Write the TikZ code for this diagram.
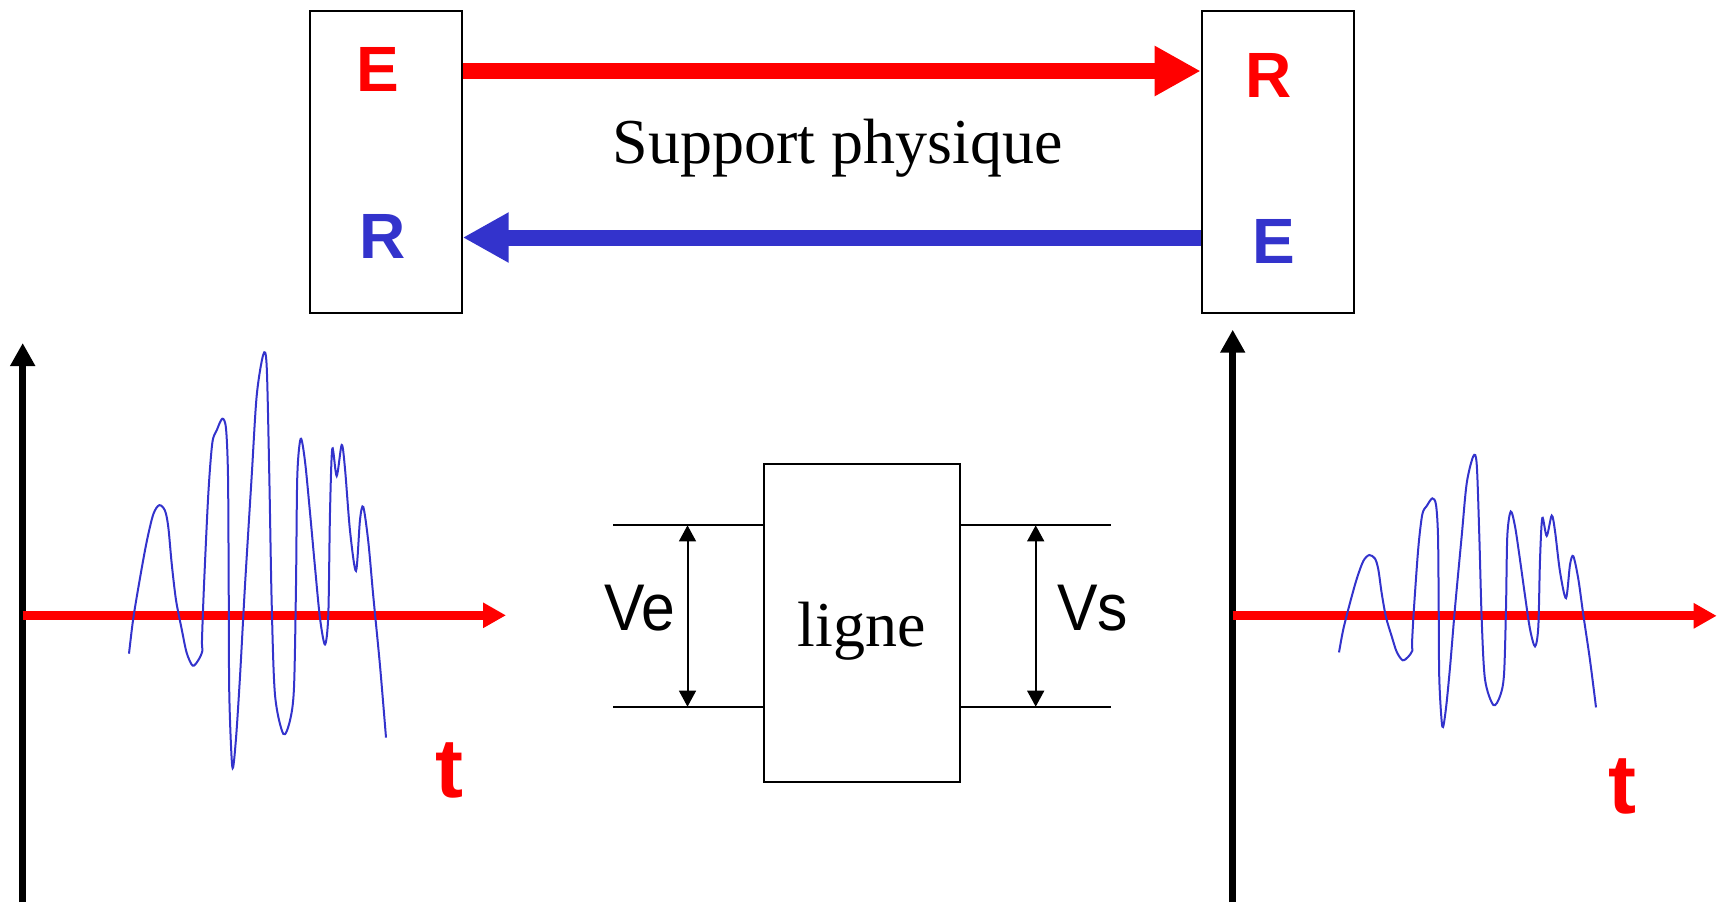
\documentclass[tikz,border=0pt]{standalone}
\usepackage{fontspec}
\setmainfont{Liberation Serif}
\setsansfont{Liberation Sans}
\usetikzlibrary{arrows.meta}
\definecolor{myred}{RGB}{255,0,0}
\definecolor{myblue}{RGB}{51,51,204}
\tikzset{
  box/.style={draw=black, line width=1pt, inner sep=0pt, fill=white},
  bigarrow/.style={line width=8pt, -{Triangle[length=23pt,width=23.5pt]}},
  vaxis/.style={black, line width=3.75pt, -{Triangle[length=11.5pt,width=11.85pt]}},
  haxis/.style={myred, line width=4.5pt, -{Triangle[length=11.5pt,width=12pt]}},
  letter/.style={font=\sffamily\bfseries\fontsize{32}{38}\selectfont, inner sep=0pt},
  tlabel/.style={font=\sffamily\bfseries\fontsize{42}{48}\selectfont, text=myred, inner sep=0pt},
  wave/.style={myblue, line width=1pt},
  thinline/.style={black, line width=0.9pt},
  dimarrow/.style={black, line width=1pt, {Triangle[length=8pt,width=8.4pt]}-{Triangle[length=8pt,width=8.4pt]}},
  vlabel/.style={font=\sffamily\fontsize{33}{40}\selectfont, inner sep=0pt},
  serif/.style={font=\rmfamily\fontsize{32}{38}\selectfont, inner sep=0pt}
}
\newcommand\wavepath{%
\draw[wave] plot[smooth, tension=0.5] coordinates {
(129.0,93.1) (133.3,57.7) (140.0,17.5) (146.7,-18.9) (153.3,-46.3) (159.3,-55.4)
(165.0,-49.9) (168.3,-33.5) (171.7,3.0) (176.0,39.4) (181.7,68.6) (186.7,92.3)
(192.7,105.1) (198.3,99.6) (202.3,90.5) (202.0,79.6) (204.0,24.8) (208.3,-66.4)
(212.3,-117.5) (216.7,-130.2) (222.3,-141.9) (226.0,-132.1) (228.0,-84.6)
(228.7,24.8) (229.3,134.3) (232.3,206.2) (235.7,181.7) (240.0,116.0) (245.0,24.8)
(251.7,-84.6) (256.7,-164.9) (263.3,-206.1) (266.7,-194.1) (269.3,-84.6)
(271.7,43.1) (275.0,134.3) (283.3,173.3) (290.0,159.8) (294.0,127.0) (296.0,24.8)
(297.3,-84.6) (300.7,-121.8) (305.0,-99.2) (310.0,-48.1) (315.0,6.6) (320.0,57.7)
(325.0,83.9) (328.3,54.0) (330.0,-48.1) (332.3,-112.0) (336.7,-84.6) (341.7,-115.6)
(345.0,-91.9) (350.0,-29.9) (356.0,10.3) (360.0,-40.8) (363.3,-53.6) (368.3,-18.9)
(373.3,35.8) (380.0,105.1) (386.0,177.0)};}
\begin{document}
\begin{tikzpicture}[x=0.5pt, y=-0.5pt]
\useasboundingbox (0,0) rectangle (1723,902);
% top boxes
\node[box, minimum width=75.85pt, minimum height=151.15pt] (boxL) at (385.85,162.15) {};
\node[box, minimum width=76.15pt, minimum height=151.15pt] (boxR) at (1277.85,162.15) {};
\node[letter, text=myred] (eL) at (377.5,69.7) {E};
\node[letter, text=myblue] (rL) at (383,236.3) {R};
\node[letter, text=myred] (rR) at (1269,75.5) {R};
\node[letter, text=myblue] (eR) at (1274.2,241.7) {E};
\coordinate (yTop) at (0,71);
\coordinate (yBot) at (0,237.5);
\draw[bigarrow, myred] (boxL.east |- yTop) -- (boxR.west |- yTop);
\draw[bigarrow, myblue] (boxR.west |- yBot) -- (boxL.east |- yBot);
\node[serif, anchor=base] (sp) at (837.6,163.3) {Support physique};
% left axes
\coordinate (oL) at (22.7,615.3);
\coordinate (vLb) at (22.7,902);
\coordinate (vLt) at (22.7,343);
\coordinate (hLe) at (506,615.3);
\draw[vaxis] (vLb) -- (vLt);
\draw[haxis] (oL) -- (hLe);
\begin{scope}[yshift=-280.275pt]
\wavepath
\end{scope}
\node[tlabel] (tL) at (449.5,770.5) {t};
% right axes
\coordinate (oR) at (1232.7,615.8);
\coordinate (vRb) at (1232.7,902);
\coordinate (vRt) at (1232.7,329.7);
\coordinate (hRe) at (1716.7,615.8);
\draw[vaxis] (vRb) -- (vRt);
\draw[haxis] (oR) -- (hRe);
\begin{scope}[xshift=605pt, yshift=-295.675pt, yscale=0.6556]
\wavepath
\end{scope}
\node[tlabel] (tR) at (1622,786) {t};
% ligne
\node[box, line width=1.1pt, minimum width=97.85pt, minimum height=158.85pt] (ligne) at (861.75,622.85) {};
\node[serif, anchor=base] (lignetxt) at (861.8,646.7) {ligne};
\coordinate (yT) at (0,525.3);
\coordinate (yB) at (0,706.7);
\coordinate (lT) at (613.2,525.3);
\coordinate (lB) at (613.2,706.7);
\coordinate (rT) at (1111.4,525.3);
\coordinate (rB) at (1111.4,706.7);
\draw[thinline] (lT) -- (ligne.west |- yT);
\draw[thinline] (lB) -- (ligne.west |- yB);
\draw[thinline] (ligne.east |- yT) -- (rT);
\draw[thinline] (ligne.east |- yB) -- (rB);
\coordinate (veT) at (687.5,525.3);
\coordinate (veB) at (687.5,706.7);
\coordinate (vsT) at (1035.7,525.3);
\coordinate (vsB) at (1035.7,706.7);
\draw[dimarrow] (veT) -- (veB);
\draw[dimarrow] (vsT) -- (vsB);
\node[vlabel] (ve) at (639.5,608.3) {\scalebox{0.92}[1]{Ve}};
\node[vlabel] (vs) at (1092.7,608.3) {\scalebox{0.92}[1]{Vs}};
\end{tikzpicture}
\end{document}
